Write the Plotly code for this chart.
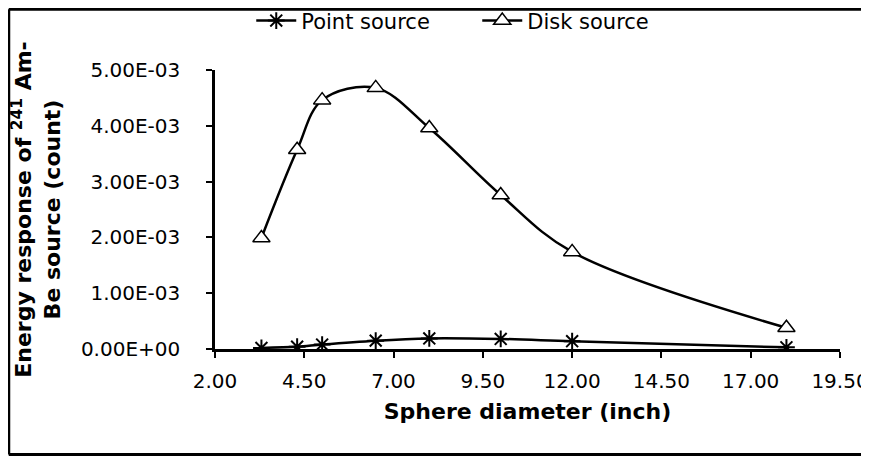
import plotly.graph_objects as go

# Data
sphere_diameter = [3.3, 4.3, 5.0, 6.5, 8.0, 10.0, 12.0, 18.0]
point_source = [0.02e-3, 0.04e-3, 0.08e-3, 0.15e-3, 0.19e-3, 0.18e-3, 0.14e-3, 0.03e-3]
disk_source = [1.99e-3, 3.57e-3, 4.46e-3, 4.68e-3, 3.96e-3, 2.76e-3, 1.74e-3, 0.38e-3]

x_tick_vals = [2.0, 4.5, 7.0, 9.5, 12.0, 14.5, 17.0, 19.5]
x_tick_text = ["2.00", "4.50", "7.00", "9.50", "12.00", "14.50", "17.00", "19.50"]
y_tick_vals = [0.0, 1e-3, 2e-3, 3e-3, 4e-3, 5e-3]
y_tick_text = ["0.00E+00", "1.00E-03", "2.00E-03", "3.00E-03", "4.00E-03", "5.00E-03"]

FONT = "DejaVu Sans"

fig = go.Figure()
fig.add_trace(go.Scatter(
    x=sphere_diameter, y=point_source, name="Point source",
    mode="lines+markers",
    line=dict(color="black", width=2.5, shape="spline", smoothing=1),
    marker=dict(symbol="asterisk-open", size=14, color="black",
                line=dict(color="black", width=2)),
))
fig.add_trace(go.Scatter(
    x=sphere_diameter, y=disk_source, name="Disk source",
    mode="lines+markers",
    line=dict(color="black", width=2.5, shape="spline", smoothing=1),
    marker=dict(symbol="triangle-up", size=15, color="white",
                line=dict(color="black", width=1.5)),
))

# page body adds an 8px margin, so the figure is 8px smaller than the window
border = dict(color="black", width=3)
fig.update_layout(
    width=861, height=448,
    margin=dict(l=207, r=29, t=62, b=107, autoexpand=False),
    paper_bgcolor="white", plot_bgcolor="white",
    font=dict(family=FONT, color="black", size=21),
    showlegend=True,
    legend=dict(orientation="h", x=0.058, xanchor="left", y=1.176, yanchor="middle",
                font=dict(family=FONT, size=21, color="black"),
                bgcolor="rgba(0,0,0,0)", itemwidth=40, traceorder="normal",
                entrywidth=171, entrywidthmode="pixels"),
    xaxis=dict(
        range=[2.0, 19.5], tickmode="array", tickvals=x_tick_vals, ticktext=x_tick_text,
        showgrid=False, zeroline=False, showline=True, linecolor="black", linewidth=2.5,
        ticks="outside", ticklen=6, tickwidth=2, tickcolor="black",
        tickfont=dict(family=FONT, size=20, color="black"),
        ticklabelstandoff=6,
        title=dict(text="<b>Sphere diameter (inch)</b>",
                   font=dict(family=FONT, size=22, color="black"), standoff=12),
    ),
    yaxis=dict(
        range=[0.0, 5e-3], tickmode="array", tickvals=y_tick_vals, ticktext=y_tick_text,
        showgrid=False, zeroline=False, showline=True, linecolor="black", linewidth=2.5,
        ticks="outside", ticklen=6, tickwidth=2, tickcolor="black",
        tickfont=dict(family=FONT, size=20, color="black"),
        ticklabelstandoff=22,
        title=dict(text="<b>Energy response of <sup>241</sup> Am-<br>Be source (count)</b>",
                   font=dict(family=FONT, size=22, color="black"), standoff=44),
    ),
    shapes=[
        dict(type="line", xref="paper", yref="paper", x0=-0.33, x1=1.2, y0=1.218, y1=1.218, line=border),
        dict(type="line", xref="paper", yref="paper", x0=-0.33, x1=-0.33, y0=-0.378, y1=1.218, line=border),
        dict(type="line", xref="paper", yref="paper", x0=-0.33, x1=1.2, y0=-0.378, y1=-0.378, line=border),
    ],
)

fig.write_html("out.html")
